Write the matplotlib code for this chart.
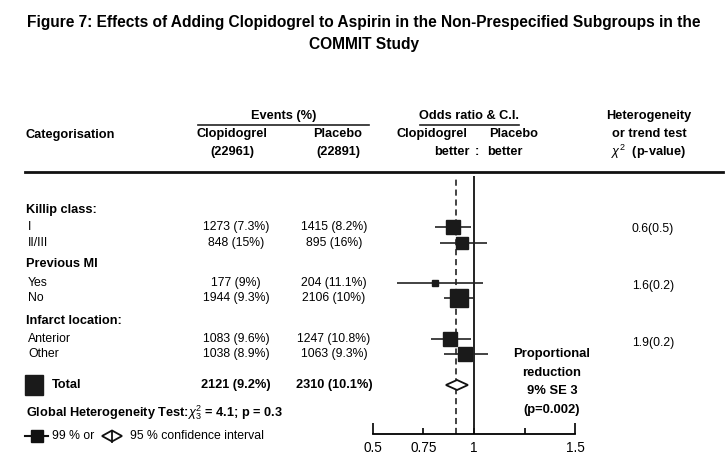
import numpy as np
import matplotlib
matplotlib.use("Agg")
import matplotlib.pyplot as plt

plt.rcParams["font.family"] = ["Liberation Sans", "DejaVu Sans"]
plt.rcParams["mathtext.fontset"] = "custom"
plt.rcParams["mathtext.rm"] = "Liberation Sans"
plt.rcParams["mathtext.it"] = "Liberation Sans:italic"
plt.rcParams["mathtext.bf"] = "Liberation Sans:bold"

# ---- data ----
title_lines = ["Figure 7: Effects of Adding Clopidogrel to Aspirin in the Non-Prespecified Subgroups in the",
               "COMMIT Study"]
groups = ["Killip class:", "Previous MI", "Infarct location:"]
subgroups = [["I", "II/III"], ["Yes", "No"], ["Anterior", "Other"]]
clop_events = [1273, 848, 177, 1944, 1083, 1038]
clop_pct = ["7.3%", "15%", "9%", "9.3%", "9.6%", "8.9%"]
plac_events = [1415, 895, 204, 2106, 1247, 1063]
plac_pct = ["8.2%", "16%", "11.1%", "10%", "10.8%", "9.3%"]
odds_ratio = [0.897, 0.941, 0.808, 0.926, 0.881, 0.955]
ci_low = [0.807, 0.832, 0.619, 0.851, 0.786, 0.853]
ci_high = [0.984, 1.064, 1.045, 1.000, 0.984, 1.071]
het_tests = ["0.6(0.5)", "1.6(0.2)", "1.9(0.2)"]

total_clop = (2121, "9.2%")
total_plac = (2310, "10.1%")
total_or = 0.916
total_ci = (0.861, 0.970)
overall_line = 0.911
reduction_lines = ["Proportional", "reduction", "9% SE 3", "(p=0.002)"]

n_clop, n_plac = 22961, 22891
x_ticks = [0.5, 1.5]
x_minor = [0.75, 1.0, 1.25]
x_minor_labels = ["0.75", "1", ""]

# ---- layout (pixel rows) ----
group_y = [210, 264, 321]
row_y = [227, 243, 283, 298, 339, 354]
het_y = [229, 286, 343]
total_y = 385
col_clop, col_plac, col_het = 236, 334, 653

W, H = 727, 472
fig = plt.figure(figsize=(W / 100, H / 100), dpi=100)
bg = fig.add_axes([0, 0, 1, 1])
bg.set_xlim(0, W)
bg.set_ylim(H, 0)
bg.axis("off")

for line, y in zip(title_lines, [22, 45]):
    bg.text(364, y, line, ha="center", va="center", fontsize=11.2, fontweight="bold")

hdr = dict(fontsize=9.2, fontweight="bold", va="center")
bg.text(26, 135, "Categorisation", ha="left", **hdr)
bg.text(284, 116, "Events (%)", ha="center", **hdr)
bg.plot([198, 369], [124.5, 124.5], color="#222", lw=1.2)
bg.text(col_clop - 4, 134, "Clopidogrel", ha="center", **hdr)
bg.text(col_clop - 4, 152, f"({n_clop})", ha="center", **hdr)
bg.text(col_plac + 4, 134, "Placebo", ha="center", **hdr)
bg.text(col_plac + 4, 152, f"({n_plac})", ha="center", **hdr)
bg.text(469, 116, "Odds ratio & C.I.", ha="center", **hdr)
bg.plot([420, 519], [124.5, 124.5], color="#222", lw=1.2)
bg.text(432, 134, "Clopidogrel", ha="center", **hdr)
bg.text(514, 134, "Placebo", ha="center", **hdr)
bg.text(470, 152, "better", ha="right", **hdr)
bg.text(477, 152, ":", ha="center", **hdr)
bg.text(487, 152, "better", ha="left", **hdr)
bg.text(649, 116, "Heterogeneity", ha="center", **hdr)
bg.text(649, 134, "or trend test", ha="center", **hdr)
bg.text(649, 152, r"$\chi^2$  (p-value)", ha="center", **hdr)
bg.plot([25, 723], [172, 172], color="#111", lw=2)

body = dict(fontsize=8.8, va="center")
for gi, g in enumerate(groups):
    bg.text(26, group_y[gi], g, ha="left", fontweight="bold", fontsize=9.2, va="center")
    bg.text(col_het, het_y[gi], het_tests[gi], ha="center", **body)
    for si, s in enumerate(subgroups[gi]):
        i = gi * 2 + si
        bg.text(28, row_y[i], s, ha="left", **body)
        bg.text(col_clop, row_y[i], f"{clop_events[i]} ({clop_pct[i]})", ha="center", **body)
        bg.text(col_plac, row_y[i], f"{plac_events[i]} ({plac_pct[i]})", ha="center", **body)

bg.add_patch(plt.Rectangle((25, total_y - 10), 18, 20, color="#1a1a1a"))
bg.text(52, total_y, "Total", ha="left", fontweight="bold", fontsize=9.2, va="center")
bg.text(col_clop, total_y, f"{total_clop[0]} ({total_clop[1]})", ha="center",
        fontweight="bold", fontsize=9.2, va="center")
bg.text(col_plac, total_y, f"{total_plac[0]} ({total_plac[1]})", ha="center",
        fontweight="bold", fontsize=9.2, va="center")

bg.text(26, 413, r"Global Heterogeneity Test:$\chi^2_3$ = 4.1; p = 0.3",
        ha="left", fontweight="bold", fontsize=9.2, va="center")
# legend key: square with whisker, open split diamond
bg.plot([25, 48], [436, 436], color="#111", lw=1.5)
bg.plot([37], [436], marker="s", ms=9, color="#111")
bg.text(52, 436, "99 % or", ha="left", **body)
bg.fill([102, 112, 122, 112], [436, 430.5, 436, 441.5],
        facecolor="white", edgecolor="#111", lw=1.3)
bg.plot([112, 112], [430.5, 441.5], color="#111", lw=1.3)
bg.text(130, 436, "95 % confidence interval", ha="left", **body)

for line, y in zip(reduction_lines, [353.5, 372.5, 391.5, 410.5]):
    bg.text(552, y, line, ha="center", va="center", fontsize=9.4, fontweight="bold")

# ---- forest panel: x in odds-ratio units, y in pixel rows ----
ax = fig.add_axes([373 / W, (H - 434) / H, 202 / W, (434 - 176) / H])
ax.set_xlim(0.5, 1.5)
ax.set_ylim(434, 176)
ax.patch.set_alpha(0)
for side in ["left", "right", "top"]:
    ax.spines[side].set_visible(False)
ax.spines["bottom"].set_linewidth(1.3)
ax.set_yticks([])
ax.set_xticks(x_ticks, [str(t) for t in x_ticks])
ax.set_xticks(x_minor, x_minor_labels, minor=True)
ax.tick_params(axis="x", which="major", direction="in", length=8, width=1.2,
               labelsize=9.8, pad=5)
ax.tick_params(axis="x", which="minor", direction="in", length=4, width=1.2,
               labelsize=9.8, pad=5)

ax.axvline(1.0, color="#111", lw=1.3)
ax.axvline(overall_line, color="#111", lw=1.1, ls=(0, (4, 2.5)))

weights = np.sqrt(np.array(clop_events) + np.array(plac_events))
sizes = 13.0 * weights / weights.max()
ax.hlines(row_y, ci_low, ci_high, color="#222", lw=1.2, clip_on=False)
for y, o, s in zip(row_y, odds_ratio, sizes):
    ax.plot([o], [y], marker="s", ms=s, color="#1a1a1a", clip_on=False)

lo, hi = total_ci
ax.fill([lo, total_or, hi, total_or], [total_y, total_y - 5, total_y, total_y + 5],
        facecolor="white", edgecolor="#111", lw=1.3, zorder=3)

fig.savefig("out.png", dpi=100)
